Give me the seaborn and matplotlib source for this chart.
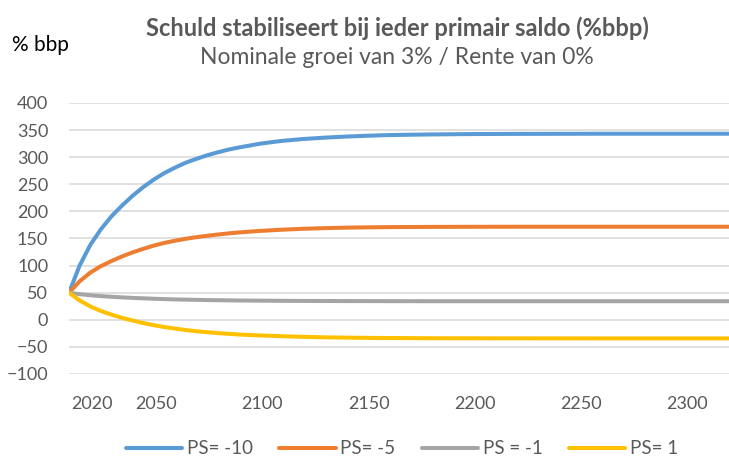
import numpy as np
import pandas as pd
import matplotlib
matplotlib.use("Agg")
import matplotlib.pyplot as plt
import seaborn as sns

# Data
years = [2009, 2014, 2019, 2024, 2029, 2034, 2039, 2044, 2049, 2054, 2059, 2064,
         2069, 2074, 2079, 2084, 2089, 2094, 2099, 2109, 2119, 2129, 2139, 2149,
         2159, 2179, 2199, 2219, 2259, 2299, 2320]
ps_m10 = [50, 100, 138, 167, 191, 211, 229, 245, 259, 271, 281, 290, 297, 303.5, 309,
          314, 318, 321.5, 325, 330, 333.5, 336, 338, 339.5, 340.8, 342, 342.7, 343, 343.3, 343.3, 343.3]
ps_m5 = [50, 71, 87, 99, 108.5, 117, 124.5, 131, 137, 142, 146, 149.5, 152.5, 155, 157.3,
         159.4, 161.2, 162.7, 164, 166.2, 167.9, 169.1, 170, 170.6, 171, 171.4, 171.6, 171.7, 171.7, 171.7, 171.7]
ps_m1 = [50, 47.3, 45.3, 43.7, 42.5, 41.4, 40.4, 39.6, 38.8, 38.2, 37.6, 37.2, 36.8,
         36.4, 36.1, 35.9, 35.6, 35.5, 35.3, 35.0, 34.8, 34.7, 34.6, 34.5, 34.4, 34.3,
         34.3, 34.3, 34.3, 34.3, 34.3]
ps_p1 = [50, 35.7, 24.7, 16.3, 9.5, 3.6, -1.4, -6.1, -10.0, -13.4, -16.3, -18.9, -21.1,
         -22.9, -24.5, -25.9, -27.1, -28.1, -28.9, -30.3, -31.4, -32.3, -32.9, -33.3,
         -33.6, -34.0, -34.1, -34.2, -34.3, -34.3, -34.3]
series_names = ["PS= -10", "PS= -5", "PS = -1", "PS= 1"]
xticks = [2020, 2050, 2100, 2150, 2200, 2250, 2300]
yticks = [-100, -50, 0, 50, 100, 150, 200, 250, 300, 350, 400]

colors = ["#5B9BD5", "#ED7D31", "#A5A5A5", "#FFC000"]

df = pd.concat([
    pd.DataFrame({"year": years, "value": vals, "series": name})
    for name, vals in zip(series_names, [ps_m10, ps_m5, ps_m1, ps_p1])
])

sns.set_style("white")
plt.rcParams["font.family"] = ["Lato", "DejaVu Sans"]

fig = plt.figure(figsize=(7.29, 4.59), dpi=100)
ax = fig.add_axes([69 / 729, 1 - 374 / 459, 1 - 69 / 729, (374 - 103) / 459])

sns.lineplot(data=df, x="year", y="value", hue="series", hue_order=series_names,
             palette=colors, linewidth=2.9, ax=ax, legend=False)
for l in ax.lines:
    l.set_solid_capstyle("round")
    l.set_solid_joinstyle("round")

ax.set_xlim(2009, 2319.6)
ax.set_ylim(-100, 400)
ax.set_yticks(yticks)
ax.set_xticks(xticks)
ax.set_xticklabels([str(t) for t in xticks])
ax.grid(axis="y", color="#D9D9D9", linewidth=1.1)
ax.grid(axis="x", visible=False)
ax.set_axisbelow(True)
for s in ax.spines.values():
    s.set_visible(False)
ax.tick_params(axis="both", length=0, labelsize=13, labelcolor="#595959")
ax.tick_params(axis="y", pad=15)
ax.tick_params(axis="x", pad=16)
ax.set_xlabel("")
ax.set_ylabel("")

fig.text(0.545, 1 - 28 / 459, "Schuld stabiliseert bij ieder primair saldo (%bbp)",
         ha="center", va="center", fontsize=17, fontweight="bold", color="#595959")
fig.text(0.545, 1 - 57 / 459, "Nominale groei van 3% / Rente van 0%",
         ha="center", va="center", fontsize=16.5, color="#595959")
fig.text(12 / 729, 1 - 45 / 459, "% bbp", ha="left", va="center", fontsize=15,
         color="black")

handles = [plt.Line2D([], [], color=c, linewidth=2.9, solid_capstyle="round")
           for c in colors]
fig.legend(handles, series_names, loc="center", bbox_to_anchor=(402 / 729, 1 - 449 / 459),
           ncol=4, frameon=False, fontsize=13.5, handlelength=3.0, handletextpad=0.25,
           columnspacing=1.4, labelcolor="#595959")

fig.savefig("out.png", dpi=100)
